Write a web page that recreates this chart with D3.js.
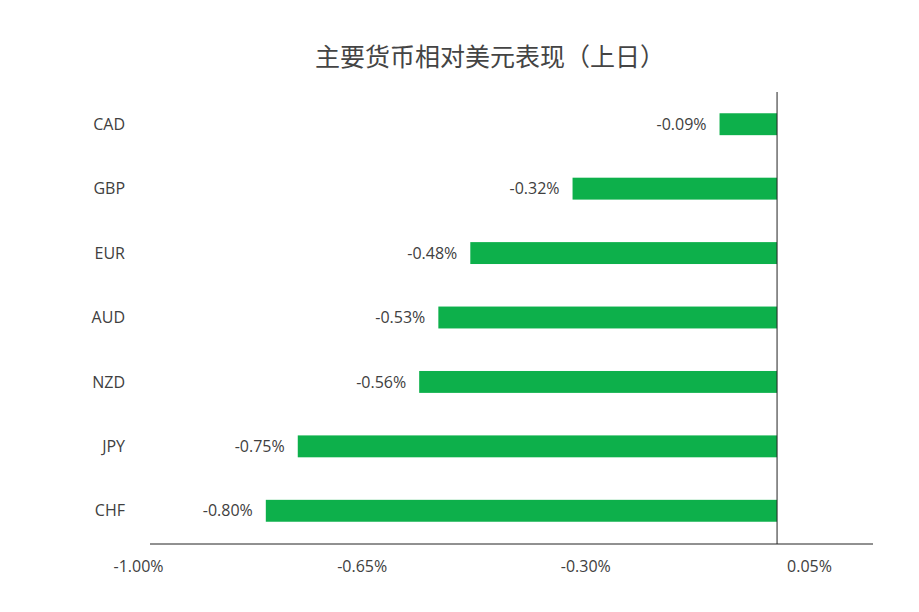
<!DOCTYPE html>
<html><head><meta charset="utf-8">
<script src="https://cdn.jsdelivr.net/npm/d3@7"></script>
<style>body{margin:0;background:#fff}</style>
</head><body><div id="chart"></div>
<script>
// Currency performance vs USD (previous day)
const categories = ["CAD", "GBP", "EUR", "AUD", "NZD", "JPY", "CHF"];
const values = [-0.09, -0.32, -0.48, -0.53, -0.56, -0.75, -0.80];
const tickValues = [-1.00, -0.65, -0.30, 0.05];

const width = 919, height = 612;
const font = "'Open Sans', 'Liberation Sans', sans-serif";
const svg = d3.select("#chart").append("svg")
  .attr("width", width).attr("height", height)
  .style("font-family", font);

const x = d3.scaleLinear().domain([-1.00, 0.05]).range([138, 809]);
const y = d3.scaleBand().domain(categories).range([92, 543]).paddingInner(0.66).paddingOuter(0.33);

svg.append("text")
  .attr("x", 490).attr("y", 66)
  .attr("text-anchor", "middle")
  .attr("font-size", "25px")
  .attr("fill", "#444")
  .attr("font-family", "'Noto Sans CJK SC', sans-serif")
  .text("主要货币相对美元表现（上日）");

// bars
svg.selectAll("rect.bar").data(values).join("rect")
  .attr("class", "bar")
  .attr("x", d => x(d))
  .attr("y", (d, i) => y(categories[i]))
  .attr("width", d => x(0) - x(d))
  .attr("height", y.bandwidth())
  .attr("fill", "#0db04b");

// value labels
svg.selectAll("text.val").data(values).join("text")
  .attr("class", "val")
  .attr("x", d => x(d) - 13)
  .attr("y", (d, i) => y(categories[i]) + y.bandwidth() / 2)
  .attr("dy", "0.35em")
  .attr("text-anchor", "end")
  .attr("font-size", "16px")
  .attr("fill", "#404040")
  .text(d => d.toFixed(2) + "%");

// category labels
svg.selectAll("text.cat").data(categories).join("text")
  .attr("class", "cat")
  .attr("x", 125)
  .attr("y", d => y(d) + y.bandwidth() / 2)
  .attr("dy", "0.35em")
  .attr("text-anchor", "end")
  .attr("font-size", "16px")
  .attr("fill", "#404040")
  .text(d => d);

// zero line
svg.append("line")
  .attr("x1", x(0)).attr("x2", x(0))
  .attr("y1", 92).attr("y2", 544)
  .attr("stroke", "#222").attr("stroke-width", 1);

// x axis
const axis = svg.append("g")
  .attr("transform", "translate(0,544)")
  .call(d3.axisBottom(x).tickValues(tickValues).tickSize(0).tickPadding(17)
    .tickFormat(d => d.toFixed(2) + "%"));
axis.select(".domain").remove();
axis.selectAll("text").attr("font-size", "16px").attr("fill", "#404040")
  .style("font-family", font);
svg.append("line")
  .attr("x1", 150).attr("x2", 873)
  .attr("y1", 544).attr("y2", 544)
  .attr("stroke", "#222").attr("stroke-width", 1);
</script>
</body></html>
